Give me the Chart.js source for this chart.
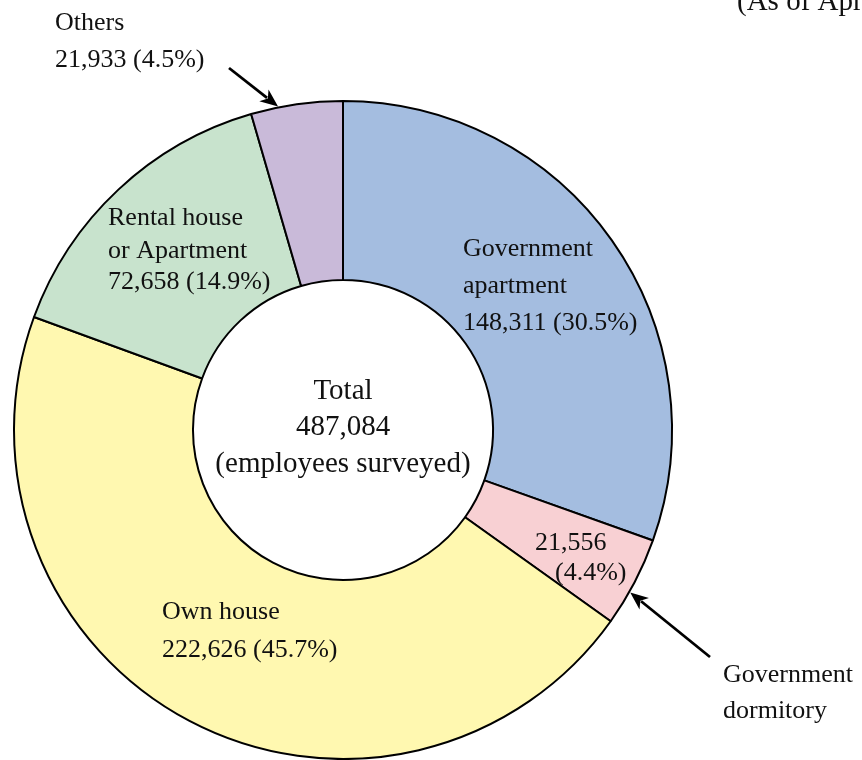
<!DOCTYPE html>
<html>
<head>
<meta charset="utf-8">
<title>Residence of employees surveyed</title>
<script src="https://cdn.jsdelivr.net/npm/chart.js@4/dist/chart.umd.min.js"></script>
<style>
  html, body { margin: 0; padding: 0; background: #ffffff; }
  #wrap { position: relative; width: 862px; height: 760px; overflow: hidden; }
  canvas { display: block; }
</style>
</head>
<body>
<div id="wrap"><canvas id="chart" width="862" height="760"></canvas></div>
<script>
// Residence type of employees surveyed (clockwise from the top)
const categories = ['Government apartment', 'Government dormitory', 'Own house', 'Rental house or Apartment', 'Others'];
const employees = [148311, 21556, 222626, 72658, 21933];
const shares = ['30.5%', '4.4%', '45.7%', '14.9%', '4.5%'];
const totalLabel = '487,084';
const sliceColors = ['#a4bde0', '#f8d0d3', '#fff8b0', '#c8e3cd', '#c9bad9'];

const SERIF = '"Liberation Serif", "DejaVu Serif", serif';

function fmt(n) { return n.toLocaleString('en-US'); }

// Straight arrow with a filled head at (x2, y2)
function arrow(ctx, x1, y1, x2, y2) {
  const ang = Math.atan2(y2 - y1, x2 - x1);
  const headLen = 18, headHalf = 7.5;
  const bx = x2 - headLen * Math.cos(ang), by = y2 - headLen * Math.sin(ang);
  ctx.save();
  ctx.strokeStyle = '#000';
  ctx.fillStyle = '#000';
  ctx.lineWidth = 2.8;
  ctx.beginPath();
  ctx.moveTo(x1, y1);
  ctx.lineTo(bx + 4 * Math.cos(ang), by + 4 * Math.sin(ang));
  ctx.stroke();
  ctx.beginPath();
  ctx.moveTo(x2, y2);
  ctx.lineTo(bx - headHalf * Math.sin(ang), by + headHalf * Math.cos(ang));
  ctx.lineTo(bx + 5 * Math.cos(ang), by + 5 * Math.sin(ang));
  ctx.lineTo(bx + headHalf * Math.sin(ang), by - headHalf * Math.cos(ang));
  ctx.closePath();
  ctx.fill();
  ctx.restore();
}

// Point on the outer rim of a slice, a given fraction of the way through it
function rimPoint(arc, frac) {
  const a = arc.startAngle + (arc.endAngle - arc.startAngle) * frac;
  const r = arc.outerRadius + 1;
  return { x: arc.x + r * Math.cos(a), y: arc.y + r * Math.sin(a) };
}

const labelPlugin = {
  id: 'sliceLabels',
  afterDraw(chart) {
    const ctx = chart.ctx;
    const arcs = chart.getDatasetMeta(0).data;
    const cx = arcs[0].x, cy = arcs[0].y;
    ctx.save();
    ctx.fillStyle = '#111';
    ctx.textBaseline = 'alphabetic';

    // centre caption
    ctx.font = '29px ' + SERIF;
    ctx.textAlign = 'center';
    ctx.fillText('Total', cx, cy - 31);
    ctx.fillText(totalLabel, cx, cy + 5);
    ctx.fillText('(employees surveyed)', cx, cy + 42);

    ctx.font = '26px ' + SERIF;
    ctx.textAlign = 'left';

    // Government apartment
    ctx.fillText('Government', cx + 120, cy - 174);
    ctx.fillText('apartment', cx + 120, cy - 137);
    ctx.fillText(fmt(employees[0]) + ' (' + shares[0] + ')', cx + 120, cy - 100);

    // Government dormitory value inside its slice
    ctx.fillText(fmt(employees[1]), cx + 192, cy + 120);
    ctx.fillText('(' + shares[1] + ')', cx + 212, cy + 150);

    // Own house
    ctx.fillText('Own house', cx - 181, cy + 189);
    ctx.fillText(fmt(employees[2]) + ' (' + shares[2] + ')', cx - 181, cy + 227);

    // Rental house or Apartment
    ctx.fillText('Rental house', cx - 235, cy - 205);
    ctx.fillText('or Apartment', cx - 235, cy - 172);
    ctx.fillText(fmt(employees[3]) + ' (' + shares[3] + ')', cx - 235, cy - 141);

    // Others (outside, with arrow)
    ctx.fillText('Others', cx - 288, cy - 400);
    ctx.fillText(fmt(employees[4]) + ' (' + shares[4] + ')', cx - 288, cy - 363);
    const pOthers = rimPoint(arcs[4], 0.3);
    arrow(ctx, cx - 114, cy - 362, pOthers.x, pOthers.y);

    // Government dormitory name (outside, with arrow)
    ctx.fillText('Government', cx + 380, cy + 252);
    ctx.fillText('dormitory', cx + 380, cy + 288);
    const pDorm = rimPoint(arcs[1], 0.62);
    arrow(ctx, cx + 367, cy + 227, pDorm.x, pDorm.y);

    // survey date note, top right
    ctx.font = '29px ' + SERIF;
    ctx.fillText('(As of April 1, 2019)', 737, 10);
    ctx.restore();
  }
};

new Chart(document.getElementById('chart'), {
  type: 'doughnut',
  data: {
    labels: categories,
    datasets: [{
      data: employees,
      backgroundColor: sliceColors,
      borderColor: '#000000',
      borderWidth: 2,
      hoverOffset: 0
    }]
  },
  options: {
    responsive: false,
    animation: false,
    cutout: '45.6%',
    rotation: 0,
    circumference: 360,
    layout: { padding: { left: 13, right: 189, top: 100, bottom: 0 } },
    plugins: {
      legend: { display: false },
      tooltip: { enabled: false }
    },
    events: []
  },
  plugins: [labelPlugin]
});
</script>
</body>
</html>
